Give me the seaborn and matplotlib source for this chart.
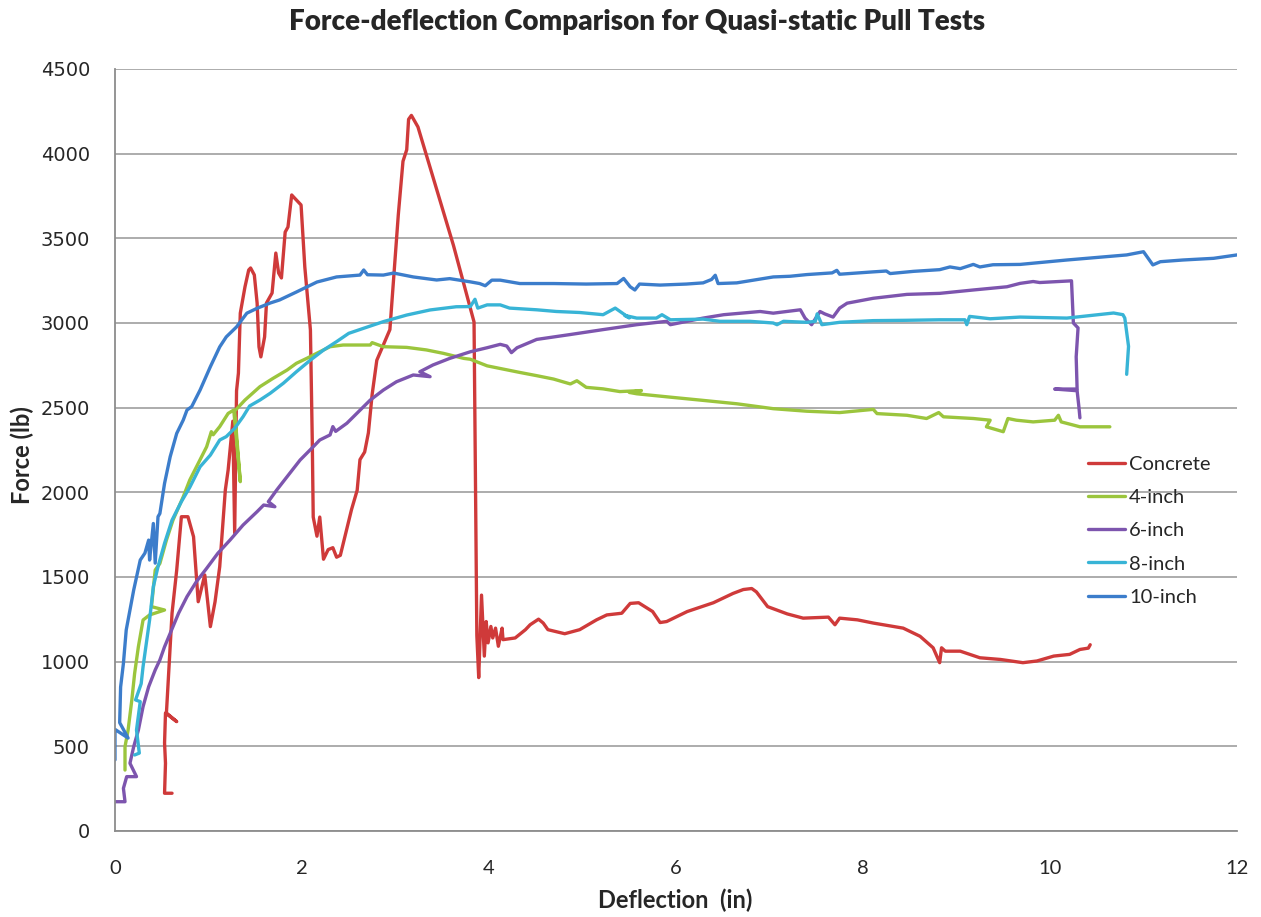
import numpy as np
import pandas as pd
import matplotlib
matplotlib.use("Agg")
import matplotlib.pyplot as plt
import seaborn as sns

# ---------------- data ----------------
series_names = ["Concrete", "4-inch", "6-inch", "8-inch", "10-inch"]
series_colors = ["#CF3A3A", "#9BC53D", "#7D55AE", "#38B4D6", "#3C7DCB"]

concrete_x = [0.61, 0.53, 0.54, 0.53, 0.54, 0.66, 0.55, 0.57, 0.61, 0.66, 0.71, 0.78, 0.84, 0.89, 0.96,
              1.02, 1.07, 1.12, 1.18, 1.21, 1.26, 1.28, 1.30, 1.32, 1.34, 1.39, 1.43, 1.45, 1.49, 1.52,
              1.54, 1.56, 1.60, 1.62, 1.68, 1.72, 1.75, 1.78, 1.82, 1.85, 1.89, 1.91, 1.99, 2.03, 2.09,
              2.11, 2.12, 2.16, 2.19, 2.23, 2.28, 2.33, 2.37, 2.41, 2.46, 2.53, 2.59, 2.62, 2.67, 2.71,
              2.75, 2.80, 2.87, 2.94, 2.97, 3.03, 3.08, 3.12, 3.14, 3.17, 3.24, 3.40, 3.62, 3.84, 3.87,
              3.89, 3.92, 3.95, 3.97, 3.99, 4.02, 4.04, 4.07, 4.10, 4.14, 4.15, 4.28, 4.39, 4.44, 4.53,
              4.58, 4.63, 4.81, 4.97, 5.15, 5.26, 5.42, 5.51, 5.60, 5.75, 5.83, 5.90, 6.12, 6.40, 6.61,
              6.72, 6.81, 6.86, 6.98, 7.19, 7.36, 7.63, 7.70, 7.75, 7.94, 8.11, 8.43, 8.61, 8.75, 8.82,
              8.84, 8.88, 9.04, 9.25, 9.47, 9.71, 9.86, 10.04, 10.21, 10.32, 10.41, 10.43]
concrete_f = [223, 223, 400, 520, 697, 646, 697, 892, 1286, 1541, 1856, 1856, 1738, 1354, 1512,
              1207, 1354, 1561, 2014, 2132, 2420, 1760, 2600, 2704, 3058, 3213, 3313, 3325, 3284, 3118,
              2859, 2800, 2918, 3118, 3177, 3413, 3295, 3266, 3537, 3567, 3756, 3744, 3697, 3331, 2959,
              2300, 1854, 1741, 1854, 1605, 1662, 1673, 1617, 1628, 1741, 1899, 2012, 2193, 2238, 2351,
              2577, 2780, 2870, 2961, 3187, 3639, 3955, 4023, 4203, 4226, 4158, 3864, 3458, 3006, 1154,
              906, 1393, 1033, 1237, 1111, 1208, 1140, 1198, 1091, 1198, 1130, 1140, 1189, 1218, 1251,
              1228, 1189, 1165, 1189, 1247, 1276, 1286, 1344, 1348, 1296, 1231, 1237, 1296, 1348, 1403,
              1426, 1432, 1412, 1325, 1282, 1257, 1263, 1218, 1257, 1247, 1228, 1198, 1150, 1082, 994,
              1082, 1062, 1062, 1023, 1013, 994, 1004, 1033, 1043, 1072, 1080, 1100]

inch4_x = [0.107, 0.107, 0.14, 0.18, 0.21, 0.25, 0.30, 0.37, 0.53, 0.39, 0.43, 0.48, 0.55, 0.62, 0.73,
           0.80, 0.89, 0.98, 1.03, 1.05, 1.12, 1.21, 1.27, 1.34, 1.28, 1.39, 1.55, 1.69, 1.84, 1.94,
           2.05, 2.19, 2.30, 2.44, 2.73, 2.75, 2.87, 3.12, 3.33, 3.51, 3.73, 3.80, 3.98, 4.15, 4.33,
           4.51, 4.69, 4.87, 4.94, 5.04, 5.22, 5.40, 5.63, 5.50, 5.58, 5.94, 6.29, 6.65, 7.04, 7.40,
           7.75, 8.11, 8.15, 8.47, 8.68, 8.81, 8.86, 9.18, 9.36, 9.32, 9.50, 9.55, 9.64, 9.82, 10.05,
           10.09, 10.12, 10.32, 10.64]
inch4_f = [360, 498, 596, 774, 931, 1088, 1246, 1276, 1305, 1325, 1541, 1580, 1718, 1836, 1974,
           2073, 2171, 2269, 2358, 2340, 2388, 2466, 2486, 2063, 2480, 2545, 2624, 2673, 2722, 2762,
           2791, 2830, 2860, 2870, 2870, 2884, 2860, 2856, 2841, 2821, 2791, 2786, 2747, 2728, 2708,
           2689, 2669, 2640, 2659, 2620, 2611, 2595, 2601, 2590, 2582, 2562, 2543, 2523, 2494, 2479,
           2471, 2490, 2465, 2455, 2436, 2471, 2446, 2436, 2426, 2387, 2358, 2436, 2426, 2416, 2426,
           2455, 2416, 2387, 2387]

inch6_x = [0.0, 0.107, 0.09, 0.125, 0.23, 0.16, 0.20, 0.25, 0.30, 0.36, 0.43, 0.48, 0.53, 0.59, 0.68,
           0.77, 0.87, 0.98, 1.10, 1.23, 1.37, 1.52, 1.59, 1.71, 1.64, 1.73, 1.84, 1.98, 2.12, 2.19,
           2.30, 2.33, 2.36, 2.48, 2.73, 2.87, 3.01, 3.19, 3.37, 3.26, 3.40, 3.58, 3.80, 3.98, 4.12,
           4.19, 4.24, 4.30, 4.51, 4.87, 5.22, 5.58, 5.90, 5.94, 6.29, 6.51, 6.90, 7.04, 7.33, 7.38,
           7.45, 7.54, 7.59, 7.68, 7.75, 7.83, 8.11, 8.47, 8.82, 9.18, 9.54, 9.68, 9.82, 9.89, 10.23,
           10.25, 10.30, 10.28, 10.29, 10.05, 10.29, 10.31, 10.32]
inch6_f = [173, 173, 252, 321, 321, 400, 498, 596, 734, 852, 951, 1010, 1088, 1167, 1286,
           1384, 1472, 1551, 1640, 1718, 1807, 1886, 1925, 1915, 1945, 2014, 2092, 2191, 2269, 2309,
           2339, 2388, 2360, 2408, 2545, 2604, 2653, 2693, 2683, 2712, 2752, 2791, 2830, 2854, 2874,
           2864, 2825, 2854, 2903, 2932, 2961, 2990, 3010, 2990, 3029, 3049, 3068, 3058, 3078, 3029,
           2990, 3068, 3054, 3035, 3088, 3117, 3146, 3169, 3175, 3195, 3214, 3234, 3245, 3239, 3249,
           3000, 2971, 2800, 2610, 2610, 2600, 2500, 2440]

inch8_x = [0.21, 0.26, 0.23, 0.27, 0.22, 0.28, 0.30, 0.34, 0.37, 0.41, 0.46, 0.53, 0.61, 0.71, 0.80,
           0.91, 1.02, 1.12, 1.19, 1.28, 1.37, 1.44, 1.55, 1.66, 1.80, 1.94, 2.09, 2.23, 2.37, 2.50,
           2.66, 2.87, 3.12, 3.37, 3.65, 3.80, 3.85, 3.88, 3.98, 4.12, 4.22, 4.51, 4.72, 4.97, 5.22,
           5.35, 5.50, 5.45, 5.58, 5.79, 5.85, 5.94, 6.29, 6.47, 6.79, 7.04, 7.08, 7.15, 7.40, 7.49,
           7.51, 7.56, 7.75, 8.11, 8.47, 8.82, 9.09, 9.11, 9.14, 9.36, 9.68, 10.18, 10.68, 10.78, 10.80,
           10.84, 10.82]
inch8_f = [449, 460, 596, 764, 774, 870, 970, 1128, 1246, 1443, 1561, 1699, 1836, 1945, 2030,
           2151, 2220, 2309, 2329, 2378, 2447, 2510, 2545, 2585, 2644, 2712, 2781, 2840, 2890, 2939,
           2969, 3008, 3047, 3077, 3096, 3097, 3140, 3088, 3107, 3107, 3088, 3078, 3068, 3062, 3049,
           3088, 3030, 3045, 3029, 3029, 3049, 3019, 3023, 3010, 3010, 3000, 2990, 3010, 3004, 3010,
           3054, 2990, 3004, 3014, 3016, 3019, 3019, 2990, 3039, 3025, 3035, 3029, 3059, 3049, 3029,
           2862, 2697]

inch10_x = [0.0, 0.0, 0.14, 0.05, 0.06, 0.09, 0.12, 0.20, 0.27, 0.32, 0.36, 0.37, 0.41, 0.43, 0.46,
            0.48, 0.53, 0.59, 0.66, 0.73, 0.77, 0.82, 0.91, 1.02, 1.12, 1.19, 1.30, 1.41, 1.52, 1.66,
            1.76, 1.94, 2.16, 2.37, 2.62, 2.66, 2.70, 2.87, 2.98, 3.19, 3.44, 3.58, 3.80, 3.90, 3.96,
            4.03, 4.12, 4.33, 4.69, 5.04, 5.37, 5.44, 5.51, 5.56, 5.61, 5.83, 6.11, 6.29, 6.38, 6.42,
            6.45, 6.65, 7.04, 7.22, 7.40, 7.67, 7.72, 7.75, 8.11, 8.25, 8.29, 8.54, 8.82, 8.93, 9.04,
            9.18, 9.25, 9.39, 9.68, 10.18, 10.82, 11.00, 11.10, 11.18, 11.42, 11.75, 12.00]
inch10_f = [420, 600, 549, 640, 850, 990, 1187, 1423, 1600, 1641, 1718, 1600, 1816, 1582, 1856,
            1875, 2053, 2210, 2348, 2427, 2486, 2506, 2604, 2742, 2859, 2918, 2977, 3058, 3087, 3118,
            3136, 3183, 3242, 3272, 3283, 3313, 3285, 3283, 3295, 3272, 3254, 3262, 3243, 3233, 3220,
            3253, 3253, 3233, 3233, 3230, 3233, 3263, 3214, 3195, 3230, 3224, 3230, 3237, 3257, 3282,
            3233, 3237, 3272, 3276, 3286, 3296, 3311, 3288, 3302, 3307, 3292, 3305, 3315, 3331, 3321,
            3346, 3331, 3344, 3346, 3372, 3402, 3421, 3343, 3362, 3372, 3382, 3402]

x_ticks = [0, 2, 4, 6, 8, 10, 12]
y_ticks = [0, 500, 1000, 1500, 2000, 2500, 3000, 3500, 4000, 4500]

title_text = "Force-deflection Comparison for Quasi-static Pull Tests"
x_label = "Deflection  (in)"
y_label = "Force (lb)"

# ---------------- build long table ----------------
all_x = [concrete_x, inch4_x, inch6_x, inch8_x, inch10_x]
all_f = [concrete_f, inch4_f, inch6_f, inch8_f, inch10_f]
frames = []
for name, xs, fs in zip(series_names, all_x, all_f):
    frames.append(pd.DataFrame({"series": name, "deflection": xs, "force": fs,
                                "step": np.arange(len(xs))}))
df = pd.concat(frames, ignore_index=True)

# ---------------- plot ----------------
sns.set_theme(style="white")
plt.rcParams["font.family"] = ["Lato", "DejaVu Sans"]

W, H = 1261, 917
fig = plt.figure(figsize=(W / 100, H / 100), dpi=100)
left, right, top, bottom = 115, 1237, 69, 831
ax = fig.add_axes([left / W, 1 - bottom / H, (right - left) / W, (bottom - top) / H])

sns.lineplot(data=df, x="deflection", y="force", hue="series", hue_order=series_names,
             palette=series_colors, sort=False, estimator=None, linewidth=2.4, ax=ax)

ax.set_xlim(0, 12)
ax.set_ylim(0, 4500)
ax.set_xticks(x_ticks)
ax.set_yticks(y_ticks)
ax.set_xticklabels([str(v) for v in x_ticks], fontsize=14.5)
ax.set_yticklabels([str(v) for v in y_ticks], fontsize=14, family=["DejaVu Sans"])

ax.grid(axis="y", color="#a6a6a6", linewidth=1.3)
ax.grid(axis="x", visible=False)
ax.set_axisbelow(True)
for s in ["top", "right"]:
    ax.spines[s].set_visible(False)
for s in ["left", "bottom"]:
    ax.spines[s].set_color("#8c8c8c")
    ax.spines[s].set_linewidth(1.3)
ax.tick_params(axis="both", direction="out", length=4, width=1, color="#8c8c8c")
ax.tick_params(axis="y", pad=14)
ax.tick_params(axis="x", pad=17)

ax.set_xlabel(x_label, fontsize=17, fontweight="bold")
ax.set_ylabel(y_label, fontsize=17, fontweight="bold")
ax.xaxis.set_label_coords(0.499, -0.076)
ax.yaxis.set_label_coords(-0.072, 0.493)

fig.text(0.505, 0.976, title_text, ha="center", va="center", fontsize=20, fontweight="heavy")

ax.legend(title=None, loc="center left", bbox_to_anchor=(0.867, 0.394), frameon=False,
          fontsize=14.5, handlelength=1.85, handletextpad=0.2, labelspacing=0.8, borderpad=0,
          borderaxespad=0)

fig.savefig("out.png", dpi=100)
